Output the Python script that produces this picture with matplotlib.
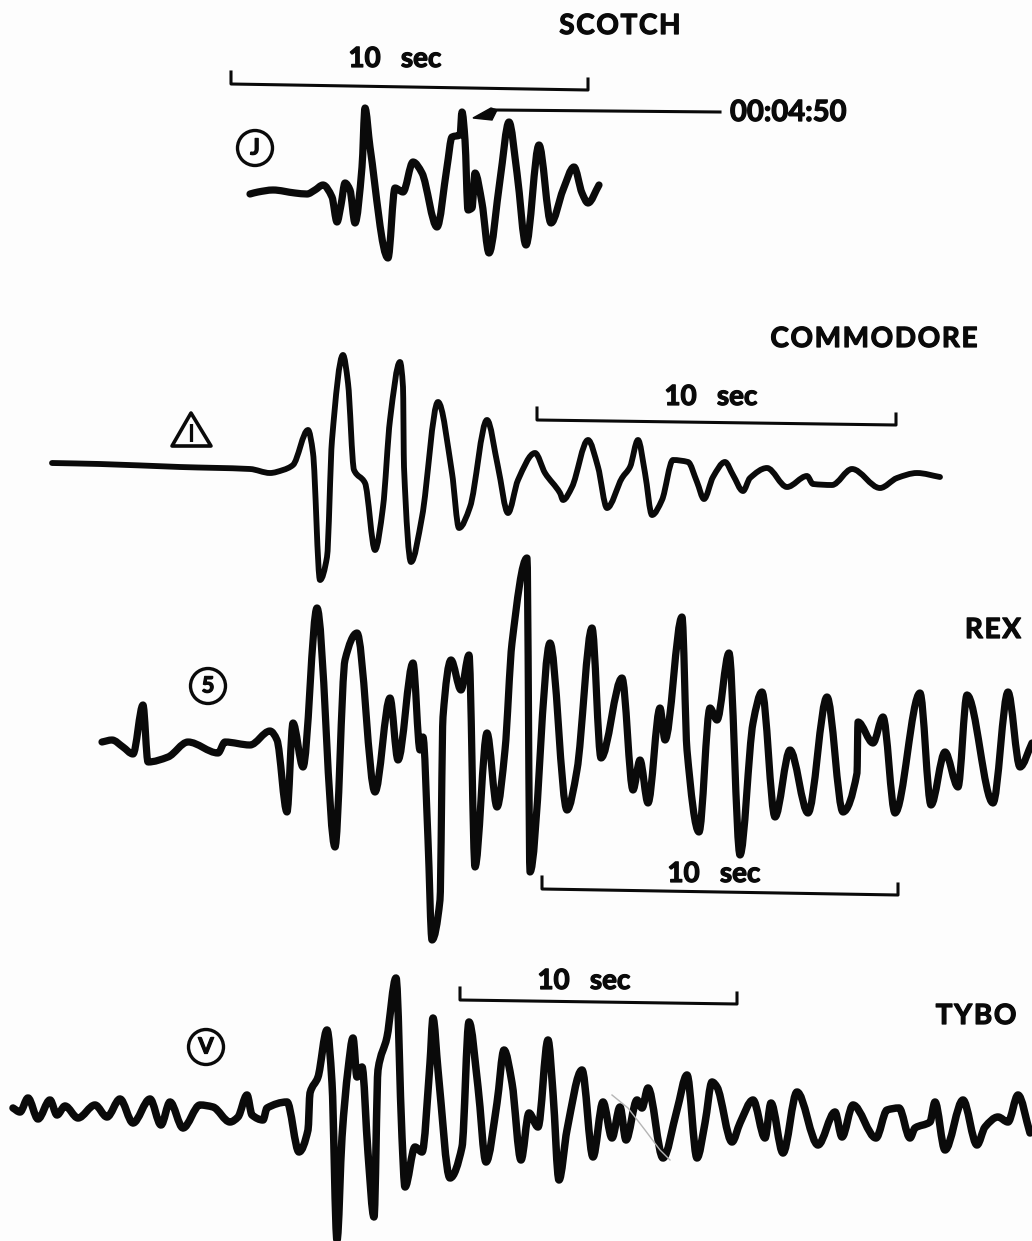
import matplotlib
matplotlib.use('Agg')
import matplotlib.pyplot as plt
import matplotlib.patheffects as pe
from matplotlib.patches import Circle, PathPatch, Polygon
from matplotlib.path import Path

# Traces, in picture pixels
scotch_x = [250, 258, 273, 295, 307, 315, 323, 332, 337, 341, 345, 350, 355, 362, 365, 370, 388, 395, 403, 413, 422, 437, 447, 452, 460, 462, 465, 468, 472, 475, 482, 489, 500, 509, 517, 526, 539, 551, 563, 574, 582, 588, 599]
scotch_y = [194, 192, 190, 193, 194, 190, 185, 197, 222, 205, 183, 190, 223, 167, 108, 147, 258, 188, 192, 162, 173, 227, 167, 137, 135, 112, 140, 210, 208, 173, 203, 253, 180, 122, 173, 245, 145, 223, 190, 167, 193, 203, 185]

commodore_x = [52, 100, 180, 250, 270, 283, 293, 308, 313, 320, 327, 332, 343, 348, 354, 365, 375, 383, 390, 400, 403, 404, 411, 422, 438, 452, 459, 470, 487, 498, 508, 518, 535, 545, 560, 563, 572, 588, 598, 607, 622, 630, 638, 645, 652, 662, 673, 688, 697, 704, 713, 725, 733, 743, 750, 767, 787, 807, 813, 832, 852, 880, 897, 917, 940]
commodore_y = [463, 464, 467, 469, 473, 470, 465, 430, 453, 580, 557, 440, 355, 383, 470, 483, 550, 507, 420, 362, 387, 467, 562, 517, 402, 473, 528, 507, 420, 467, 513, 480, 453, 473, 493, 500, 487, 440, 467, 508, 478, 467, 440, 473, 515, 500, 460, 462, 482, 499, 477, 462, 475, 491, 478, 468, 487, 476, 484, 485, 469, 488, 478, 473, 477]

rex_x = [102, 112, 123, 133, 143, 148, 168, 188, 218, 225, 250, 270, 277, 287, 293, 303, 317, 335, 345, 357, 375, 390, 398, 413, 420, 423, 428, 432, 440, 443, 451, 461, 469, 475, 487, 497, 505, 512, 527, 530, 550, 567, 577, 592, 601, 622, 633, 640, 648, 660, 665, 682, 687, 699, 710, 717, 729, 740, 753, 762, 775, 790, 808, 827, 843, 857, 858, 873, 883, 895, 920, 931, 945, 958, 967, 993, 1008, 1020, 1032]
rex_y = [742, 740, 747, 754, 705, 762, 757, 742, 753, 742, 745, 731, 740, 812, 723, 767, 608, 847, 660, 633, 792, 698, 760, 663, 750, 737, 840, 940, 900, 717, 660, 690, 655, 867, 733, 807, 750, 643, 558, 872, 643, 810, 770, 628, 758, 678, 790, 760, 803, 708, 740, 617, 750, 832, 708, 720, 653, 855, 723, 692, 817, 750, 813, 697, 812, 773, 722, 743, 717, 813, 693, 805, 752, 787, 695, 803, 692, 767, 743]

tybo_x = [13, 20, 28, 38, 50, 57, 65, 78, 95, 107, 120, 133, 150, 161, 170, 183, 200, 213, 230, 238, 247, 252, 263, 267, 287, 299, 308, 310, 318, 327, 332, 337, 342, 348, 353, 357, 362, 368, 374, 378, 387, 396, 402, 405, 415, 422, 430, 433, 438, 450, 462, 469, 478, 486, 497, 504, 512, 521, 529, 538, 548, 553, 559, 567, 582, 593, 603, 612, 620, 626, 637, 642, 648, 663, 677, 687, 697, 705, 712, 717, 732, 740, 753, 765, 771, 783, 797, 818, 835, 842, 853, 876, 887, 899, 910, 915, 930, 935, 945, 963, 977, 985, 998, 1008, 1018, 1030]
tybo_y = [1108, 1112, 1098, 1119, 1100, 1115, 1106, 1118, 1105, 1117, 1099, 1123, 1099, 1125, 1102, 1128, 1105, 1107, 1122, 1117, 1095, 1115, 1120, 1108, 1102, 1152, 1130, 1093, 1077, 1030, 1083, 1240, 1137, 1070, 1038, 1077, 1067, 1153, 1217, 1070, 1037, 978, 1137, 1187, 1147, 1152, 1063, 1018, 1070, 1178, 1147, 1022, 1087, 1162, 1103, 1050, 1083, 1160, 1113, 1127, 1040, 1093, 1180, 1130, 1070, 1157, 1102, 1138, 1107, 1140, 1100, 1108, 1088, 1158, 1110, 1075, 1158, 1123, 1082, 1087, 1142, 1123, 1100, 1138, 1103, 1153, 1092, 1145, 1112, 1137, 1105, 1138, 1110, 1108, 1138, 1128, 1122, 1102, 1150, 1100, 1145, 1127, 1117, 1122, 1095, 1133]

# scale bars: ends of the slightly tilted bar, then label centre
bar_x0 = [231, 537, 542, 460]
bar_x1 = [588, 896, 898, 737]
bar_y0 = [84, 420, 889, 1000]
bar_y1 = [90, 425, 895, 1004]
bar_label_x = [395, 711, 714, 584]
bar_label_y = [59, 397, 874, 981]

names = ['SCOTCH', 'COMMODORE', 'REX', 'TYBO']
name_x = [620, 874, 993, 976]
name_y = [26, 339, 630, 1016]

circle_letters = ['J', '5', 'V']
circle_x = [255, 208, 206]
circle_y = [148, 686, 1047]

scratch_x = [612, 628, 645, 660, 670]
scratch_y = [1095, 1108, 1130, 1150, 1160]


def slopes(xs, ys):
    # flat at every peak and trough so the trace comes out round there
    d = [(ys[i + 1] - ys[i]) / max(xs[i + 1] - xs[i], 1) for i in range(len(xs) - 1)]
    m = [d[0]]
    for a, b in zip(d[:-1], d[1:]):
        m.append(0 if a * b <= 0 else 2 * a * b / (a + b))
    m.append(d[-1])
    return m


def trace_path(xs, ys):
    m = slopes(xs, ys)
    verts = [(xs[0], ys[0])]
    codes = [Path.MOVETO]
    for i in range(len(xs) - 1):
        h = (xs[i + 1] - xs[i]) / 3
        verts += [(xs[i] + h, ys[i] + m[i] * h), (xs[i + 1] - h, ys[i + 1] - m[i + 1] * h), (xs[i + 1], ys[i + 1])]
        codes += [Path.CURVE4, Path.CURVE4, Path.CURVE4]
    return Path(verts, codes)


fig = plt.figure(figsize=(10.32, 12.41), dpi=100, facecolor='#fdfdfd')
ax = fig.add_axes([0, 0, 1, 1])
ax.set_xlim(0, 1032)
ax.set_ylim(1241, 0)
ax.axis('off')

ink = '#0a0a0a'
font = ['Lato', 'Liberation Sans']
# thicken the lettering, the print is heavier than any bold here
heavy = [pe.withStroke(linewidth=0.9, foreground=ink)]

for xs, ys, lw in [(scotch_x, scotch_y, 5.2), (commodore_x, commodore_y, 4.2),
                   (rex_x, rex_y, 5.2), (tybo_x, tybo_y, 5.4)]:
    ax.add_patch(PathPatch(trace_path(xs, ys), fill=False, ec=ink, lw=lw,
                           joinstyle='round', capstyle='round'))

ax.plot(scratch_x, scratch_y, color='#b5b5b5', lw=1.0)

# scale bars with end ticks
for x0, x1, y0, y1, lx, ly in zip(bar_x0, bar_x1, bar_y0, bar_y1, bar_label_x, bar_label_y):
    ax.plot([x0, x0, x1, x1], [y0 - 12, y0, y1, y1 - 11], color=ink, lw=2.2,
            solid_joinstyle='round')
    ax.text(lx, ly, '10   sec', family=font, weight='bold', fontsize=20,
            color=ink, ha='center', va='center', path_effects=heavy)

for name, x, y in zip(names, name_x, name_y):
    ax.text(x, y, '\u200a'.join(name), family=font, weight='bold', fontsize=20,
            color=ink, ha='center', va='center', path_effects=heavy)

# time marker
ax.plot([495, 720], [110, 112], color=ink, lw=2.2)
ax.add_patch(Polygon([[473, 118], [491, 108], [497, 110], [492, 120]], closed=True, color=ink))
ax.text(788, 113, '00:04:50', family=font, weight='bold', fontsize=21,
        color=ink, ha='center', va='center', path_effects=heavy)

for letter, x, y in zip(circle_letters, circle_x, circle_y):
    ax.add_patch(Circle((x, y), 17.5, fill=False, ec=ink, lw=2.4))
    ax.text(x, y, letter, family=font, weight='bold', fontsize=16,
            color=ink, ha='center', va='center', path_effects=heavy)

# event symbol for Commodore
ax.add_patch(Polygon([[172, 446], [191, 413], [211, 446]], closed=True, fill=False,
                     ec=ink, lw=2.6, joinstyle='round'))
ax.text(191, 434, 'I', family=font, weight='bold', fontsize=17, color=ink,
        ha='center', va='center')

fig.savefig('out.png', dpi=100, facecolor=fig.get_facecolor())
